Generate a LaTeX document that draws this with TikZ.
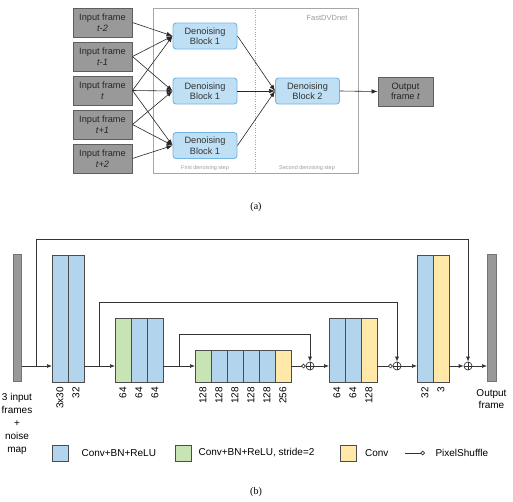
\documentclass[tikz,border=0pt]{standalone}
\usepackage{fontspec}
\setmainfont{Liberation Sans}
\newfontfamily\capfont{Liberation Serif}
\usetikzlibrary{arrows.meta, positioning, calc}

\definecolor{framegray}{HTML}{999999}
\definecolor{framedraw}{HTML}{5E5E5E}
\definecolor{dbfill}{HTML}{BFDFF5}
\definecolor{dbedge}{HTML}{72B6E2}
\definecolor{convblue}{HTML}{B2D4ED}
\definecolor{convgreen}{HTML}{C8E4B4}
\definecolor{convyellow}{HTML}{FFE8A8}
\definecolor{notegray}{HTML}{9C9C9C}

\tikzset{
  frame/.style={draw=framedraw, fill=framegray, line width=0.9pt, minimum width=59, minimum height=29,
    align=center, text=black!85, font=\fontsize{9.2}{10.5}\selectfont},
  dblock/.style={draw=dbedge, fill=dbfill, line width=0.9pt, rounded corners=3, minimum width=64,
    minimum height=26, align=center, text=black!80, font=\fontsize{9.2}{10.5}\selectfont},
  link/.style={-{Latex[length=6pt,width=4.5pt]}, draw=black!85, line width=0.6pt},
  note/.style={text=notegray, font=\fontsize{7.5}{9}\selectfont},
  tiny/.style={text=notegray, font=\fontsize{5.5}{7}\selectfont},
  layer/.style={draw=black!70, line width=0.7pt, minimum width=16, anchor=south west, inner sep=0, outer sep=0},
  bar/.style={draw=black!55, fill=framegray, line width=0.6pt, minimum width=8, minimum height=127,
    anchor=south west, inner sep=0},
  num/.style={rotate=90, anchor=east, inner xsep=5pt, font=\fontsize{10}{12}\selectfont},
  flow/.style={-{Latex[length=5pt,width=4pt]}, draw=black!80, line width=0.7pt},
  shuffle/.style={-{Circle[open,length=4.5pt,width=4.5pt]}, draw=black!80, line width=0.7pt},
  sum/.style={circle, draw=black!80, line width=0.7pt, minimum size=8, inner sep=0},
  txt/.style={font=\fontsize{10}{13}\selectfont, align=center},
  caption/.style={font=\capfont\fontsize{10}{12}\selectfont}
}

\begin{document}
\begin{tikzpicture}[x=1pt, y=1pt]
  \useasboundingbox (0,0) rectangle (513,-501);

  % (a)
  \node[draw=black!35, line width=0.8pt, minimum width=205, minimum height=165, inner sep=0] (fastdvd) at (255.5,-90.5) {};
  \draw[black!35, dotted] (fastdvd.north) -- (fastdvd.south);
  \node[note] (name) at (327,-18) {FastDVDnet};
  \node[tiny] (firststep) at (205,-168) {First denoising step};
  \node[tiny] (secondstep) at (307,-168) {Second denoising step};

  \foreach \i/\t in {1/t-2, 2/t-1, 3/t, 4/t+1, 5/t+2} {
    \node[frame] (in\i) at (102.5,-22.5-34*\i+34) {Input frame\\\textit{\t}};
  }
  \foreach \j/\y in {1/-36, 2/-91, 3/-145.5} {
    \node[dblock] (step1-\j) at (205,\y) {Denoising\\Block 1};
  }
  \node[dblock] (step2) at (307.5,-91) {Denoising\\Block 2};
  \node[frame, minimum width=55] (out) at (405.5,-91.5) {Output\\frame \textit{t}};

  \foreach \i/\j in {1/1, 2/1, 2/2, 3/1, 3/2, 3/3, 4/2, 4/3, 5/3} {
    \draw[link] (in\i.east) -- (step1-\j.west);
  }
  \foreach \j in {1,2,3} {
    \draw[link] (step1-\j.east) -- (step2.west);
  }
  \draw[link] (step2.east) -- (out.west);

  \node[caption] (capa) at (256,-207) {(a)};

  % (b)
  \coordinate (line) at (0,-366);
  \node[bar] (inframes) at (13,-382) {};
  \node[bar, minimum width=9] (outframe) at (487,-382) {};

  \foreach \i/\c/\l in {1/convblue/3x30, 2/convblue/32} {
    \node[layer, fill=\c, minimum height=127] (b1-\i) at (36+16*\i,-382) {};
    \node[num] at (b1-\i.south) {\l};
  }
  \foreach \i/\c/\l in {1/convgreen/64, 2/convblue/64, 3/convblue/64} {
    \node[layer, fill=\c, minimum height=64] (b2-\i) at (99+16*\i,-382) {};
    \node[num] at (b2-\i.south) {\l};
  }
  \foreach \i/\c/\l in {1/convgreen/128, 2/convblue/128, 3/convblue/128, 4/convblue/128, 5/convblue/128, 6/convyellow/256} {
    \node[layer, fill=\c, minimum height=32] (b3-\i) at (179+16*\i,-382) {};
    \node[num] at (b3-\i.south) {\l};
  }
  \foreach \i/\c/\l in {1/convblue/64, 2/convblue/64, 3/convyellow/128} {
    \node[layer, fill=\c, minimum height=64] (b4-\i) at (313+16*\i,-382) {};
    \node[num] at (b4-\i.south) {\l};
  }
  \foreach \i/\c/\l in {1/convblue/32, 2/convyellow/3} {
    \node[layer, fill=\c, minimum height=127] (b5-\i) at (401+16*\i,-382) {};
    \node[num] at (b5-\i.south) {\l};
  }

  \node[sum] (sum3) at (310,-366) {};
  \node[sum] (sum2) at (397,-366) {};
  \node[sum] (sum1) at (468,-366) {};
  \foreach \s in {sum1, sum2, sum3} {
    \draw[black!80, line width=0.7pt] (\s.north) -- (\s.south) (\s.west) -- (\s.east);
  }

  \coordinate (s1) at ($(inframes.east |- line)!0.5!(b1-1.west |- line)$);
  \coordinate (s2) at ($(b1-2.east |- line)!0.5!(b2-1.west |- line)$);
  \coordinate (s3) at ($(b2-3.east |- line)!0.5!(b3-1.west |- line)$);

  \draw[flow] (inframes.east |- line) -- (b1-1.west |- line);
  \draw[flow] (b1-2.east |- line) -- (b2-1.west |- line);
  \draw[flow] (b2-3.east |- line) -- (b3-1.west |- line);
  \draw[shuffle] (b3-6.east |- line) -- (sum3.west);
  \draw[flow] (sum3.east) -- (b4-1.west |- line);
  \draw[shuffle] (b4-3.east |- line) -- (sum2.west);
  \draw[flow] (sum2.east) -- (b5-1.west |- line);
  \draw[flow] (b5-2.east |- line) -- (sum1.west);
  \draw[flow] (sum1.east) -- (outframe.west |- line);

  \draw[flow] (s1) -- ++(0,127) -| (sum1.north);
  \draw[flow] (s2) -- ++(0,64) -| (sum2.north);
  \draw[flow] (s3) -- ++(0,32) -| (sum3.north);

  \node[txt, anchor=north] (intext) at (17,-390) {3 input\\frames\\+\\noise\\map};
  \node[txt, anchor=north, font=\fontsize{10}{12}\selectfont] (outtext) at (491.5,-386) {Output\\frame};

  % legend
  \node[layer, fill=convblue, minimum height=16, anchor=center] (lg1) at (60,-453) {};
  \node[txt, right=10pt of lg1] (lgt1) {Conv+BN+ReLU};
  \node[layer, fill=convgreen, minimum height=16, anchor=center] (lg2) at (183,-453) {};
  \node[txt, right=4pt of lg2] (lgt2) {Conv+BN+ReLU, stride=2};
  \node[layer, fill=convyellow, minimum height=16, anchor=center] (lg3) at (348.5,-453) {};
  \node[txt, right=5pt of lg3] (lgt3) {Conv};
  \coordinate (ps0) at (405,-453);
  \coordinate (ps1) at (425,-453);
  \draw[shuffle] (ps0) -- (ps1);
  \node[txt, anchor=west] (lgt4) at (432,-453) {PixelShuffle};

  \node[caption] (capb) at (256,-492) {(b)};
\end{tikzpicture}
\end{document}
